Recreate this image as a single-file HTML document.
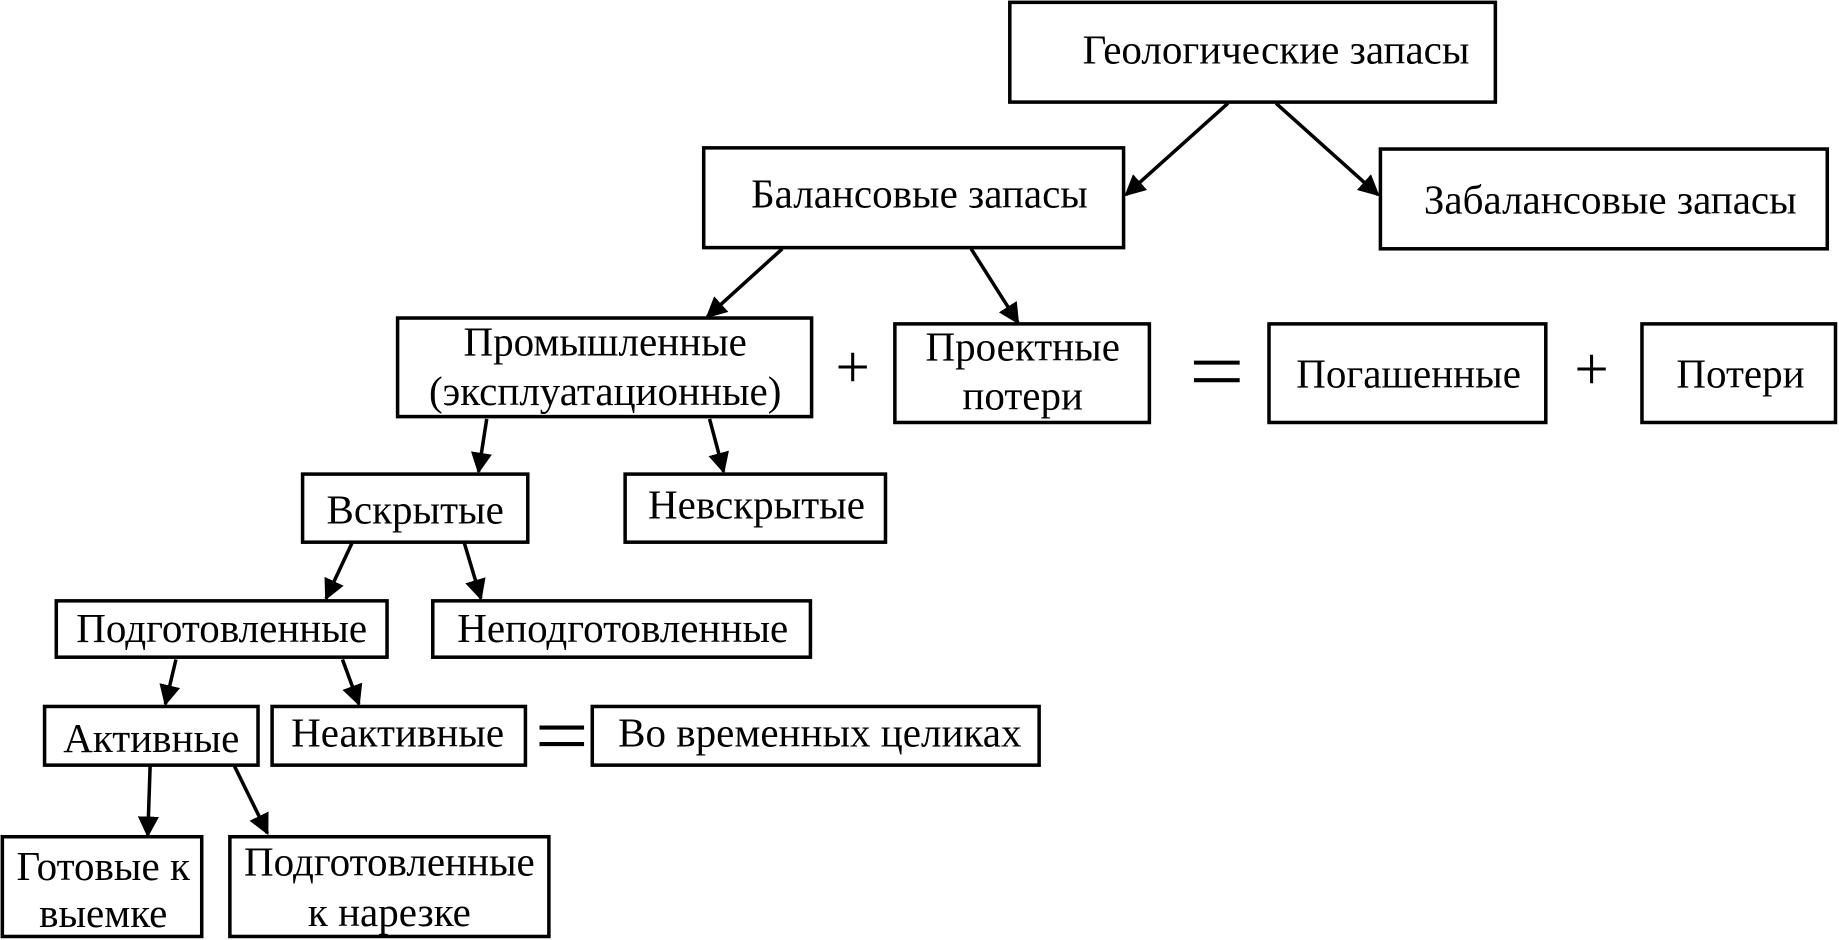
<!DOCTYPE html>
<html><head><meta charset="utf-8"><style>html,body{margin:0;padding:0;background:#fff;}svg{display:block}</style></head>
<body>
<svg width="1839" height="940" viewBox="0 0 1568 801" preserveAspectRatio="none" xmlns="http://www.w3.org/2000/svg">
<defs><marker id="a" viewBox="0 0 10 10" refX="9" refY="5" markerWidth="6" markerHeight="6" orient="auto" markerUnits="strokeWidth"><path d="M0,0 L10,5 L0,10 z" fill="#000"/></marker></defs>
<g fill="#fff" stroke="#000" stroke-width="3">
<rect x="861" y="2" width="414" height="85"/>
<rect x="600" y="126" width="358" height="85"/>
<rect x="1177" y="127" width="381" height="85"/>
<rect x="339" y="271" width="353" height="84"/>
<rect x="763" y="276" width="217" height="84"/>
<rect x="1082" y="276" width="236" height="84"/>
<rect x="1400" y="276" width="165" height="84"/>
<rect x="258" y="404" width="192" height="58"/>
<rect x="533" y="404" width="222" height="58"/>
<rect x="48" y="512" width="282" height="48"/>
<rect x="369" y="512" width="322" height="48"/>
<rect x="38" y="602" width="182" height="50"/>
<rect x="232" y="602" width="216" height="50"/>
<rect x="505" y="602" width="381" height="50"/>
<rect x="2" y="713" width="170" height="85"/>
<rect x="196" y="713" width="272" height="85"/>
</g>
<g stroke="#000" stroke-width="3" marker-end="url(#a)">
<line x1="1047" y1="88" x2="960" y2="166"/>
<line x1="1088" y1="88" x2="1175" y2="166"/>
<line x1="667" y1="212" x2="603" y2="270"/>
<line x1="828" y1="212" x2="868" y2="275"/>
<line x1="415" y1="357" x2="408" y2="402"/>
<line x1="605" y1="357" x2="617" y2="402"/>
<line x1="300" y1="463" x2="278" y2="510"/>
<line x1="396" y1="463" x2="410" y2="510"/>
<line x1="150" y1="562" x2="141" y2="600"/>
<line x1="292" y1="562" x2="306" y2="600"/>
<line x1="128" y1="653" x2="126" y2="712"/>
<line x1="200" y1="653" x2="228" y2="710"/>
</g>
<g font-family="Liberation Serif, serif" font-size="35" text-anchor="middle" fill="#000">
<text x="1088" y="54">Геологические запасы</text>
<text x="784" y="177">Балансовые запасы</text>
<text x="1373" y="182">Забалансовые запасы</text>
<text x="516" y="303">Промышленные</text>
<text x="516" y="345">(эксплуатационные)</text>
<text x="872" y="307">Проектные</text>
<text x="872" y="349">потери</text>
<text x="1201" y="330">Погашенные</text>
<text x="1484" y="330">Потери</text>
<text x="354" y="446">Вскрытые</text>
<text x="645" y="442">Невскрытые</text>
<text x="189" y="547">Подготовленные</text>
<text x="531" y="547">Неподготовленные</text>
<text x="129" y="641">Активные</text>
<text x="339" y="636">Неактивные</text>
<text x="699" y="636">Во временных целиках</text>
<text x="88" y="750">Готовые к</text>
<text x="88" y="790">выемке</text>
<text x="332" y="746">Подготовленные</text>
<text x="332" y="789">к нарезке</text>
<text x="727" y="330" font-size="52">+</text>
<text x="1357" y="332" font-size="52">+</text>
</g>
<g stroke="#000" stroke-width="3.5">
<line x1="1018" y1="309" x2="1057" y2="309"/><line x1="1018" y1="324" x2="1057" y2="324"/>
<line x1="460" y1="620" x2="498" y2="620"/><line x1="460" y1="634" x2="498" y2="634"/>
</g>
</svg>
</body></html>
